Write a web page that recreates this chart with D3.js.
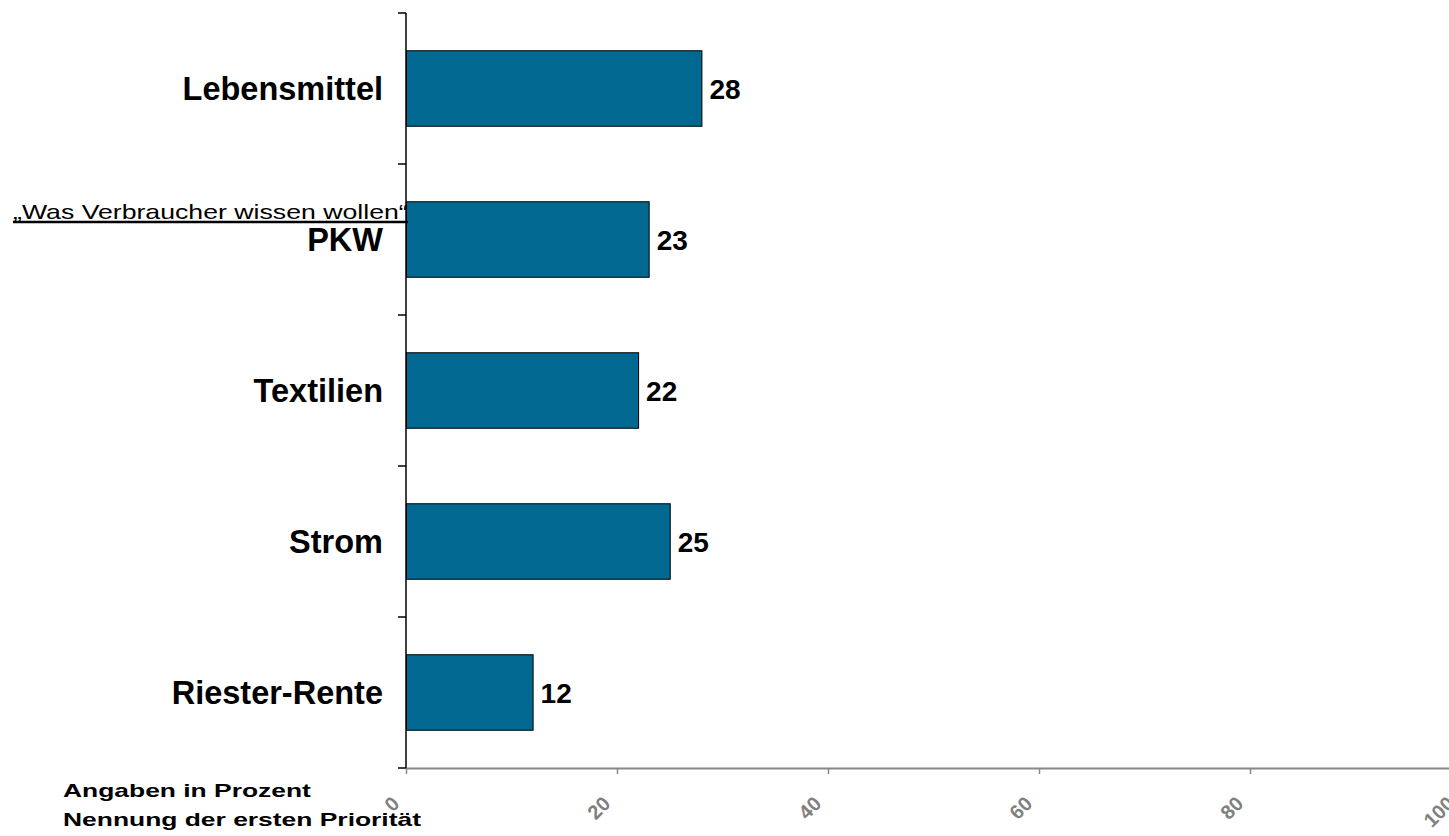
<!DOCTYPE html>
<html>
<head>
<meta charset="utf-8">
<script src="https://cdn.jsdelivr.net/npm/d3@7"></script>
<style>
  html, body { margin: 0; padding: 0; background: #fff; }
  svg { display: block; font-family: "Liberation Sans", Arial, sans-serif; }
</style>
</head>
<body>
<svg id="chart" width="1449" height="836"></svg>
<script>
const categories = ["Lebensmittel", "PKW", "Textilien", "Strom", "Riester-Rente"];
const values = [28, 23, 22, 25, 12];
const xTicks = [0, 20, 40, 60, 80, 100];
const titleText = "„Was Verbraucher wissen wollen“";
const notes = ["Angaben in Prozent", "Nennung der ersten Priorität"];

const svg = d3.select("#chart");
const plotLeft = 406, plotRight = 1461, plotTop = 13, plotBottom = 768;

const x = d3.scaleLinear().domain([0, 100]).range([plotLeft, plotRight]);
const y = d3.scaleBand().domain(categories).range([plotTop, plotBottom]).paddingInner(0.5).paddingOuter(0.25);

// bars
svg.append("g").selectAll("rect").data(categories).join("rect")
  .attr("x", x(0) + 0.5)
  .attr("y", d => y(d))
  .attr("width", (d, i) => x(values[i]) - x(0))
  .attr("height", y.bandwidth())
  .attr("fill", "#006891")
  .attr("stroke", "#000")
  .attr("stroke-width", 1);

// value labels
svg.append("g").selectAll("text").data(categories).join("text")
  .attr("x", (d, i) => x(values[i]) + 8)
  .attr("y", d => y(d) + y.bandwidth() / 2)
  .attr("dy", "0.36em")
  .attr("font-size", 28).attr("font-weight", "bold").attr("fill", "#000")
  .text((d, i) => values[i]);

// category labels
svg.append("g").selectAll("text").data(categories).join("text")
  .attr("x", 383)
  .attr("y", d => y(d) + y.bandwidth() / 2)
  .attr("dy", "0.36em")
  .attr("text-anchor", "end")
  .attr("font-size", 32.5).attr("font-weight", "bold").attr("fill", "#000")
  .text(d => d);

// x axis
const xAxis = d3.axisBottom(x).tickValues(xTicks).tickSize(6).tickSizeOuter(0).tickFormat(d3.format("d"));
const gx = svg.append("g").attr("transform", `translate(0,${plotBottom})`).call(xAxis);
gx.select(".domain").attr("stroke", "#888").attr("stroke-width", 2);
gx.selectAll(".tick line").attr("stroke", "#888").attr("stroke-width", 1.5);
gx.selectAll(".tick text")
  .attr("font-family", "Liberation Sans, Arial, sans-serif")
  .attr("font-size", 20).attr("font-weight", "bold").attr("fill", "#808080")
  .attr("text-anchor", "end")
  .attr("transform", "translate(-6,37) rotate(-45)")
  .attr("y", 0).attr("dy", 0).attr("x", 0);

// y axis line & band-edge ticks
const gy = svg.append("g");
gy.append("line").attr("x1", plotLeft).attr("x2", plotLeft).attr("y1", plotTop).attr("y2", plotBottom)
  .attr("stroke", "#000").attr("stroke-width", 1.5);
const edges = categories.map(c => y(c) - y.step() * y.paddingInner() / 2).concat([plotBottom]);
edges[0] = plotTop;
gy.selectAll("line.t").data(edges).join("line").attr("class", "t")
  .attr("x1", plotLeft - 8).attr("x2", plotLeft).attr("y1", d => d).attr("y2", d => d)
  .attr("stroke", "#000").attr("stroke-width", 1.5);

// title text (stretched horizontally like the source) + underline
svg.append("text")
  .attr("transform", "translate(13,219) scale(1.27,1)")
  .attr("font-size", 21).attr("fill", "#000")
  .text(titleText);
svg.append("line").attr("x1", 13).attr("x2", 408).attr("y1", 222).attr("y2", 222)
  .attr("stroke", "#000").attr("stroke-width", 2.5);

// notes (stretched horizontally)
svg.append("g").selectAll("text").data(notes).join("text")
  .attr("transform", (d, i) => `translate(63,${797 + i * 29}) scale(1.39,1)`)
  .attr("font-size", 19).attr("font-weight", "bold").attr("fill", "#000")
  .text(d => d);
</script>
</body>
</html>
